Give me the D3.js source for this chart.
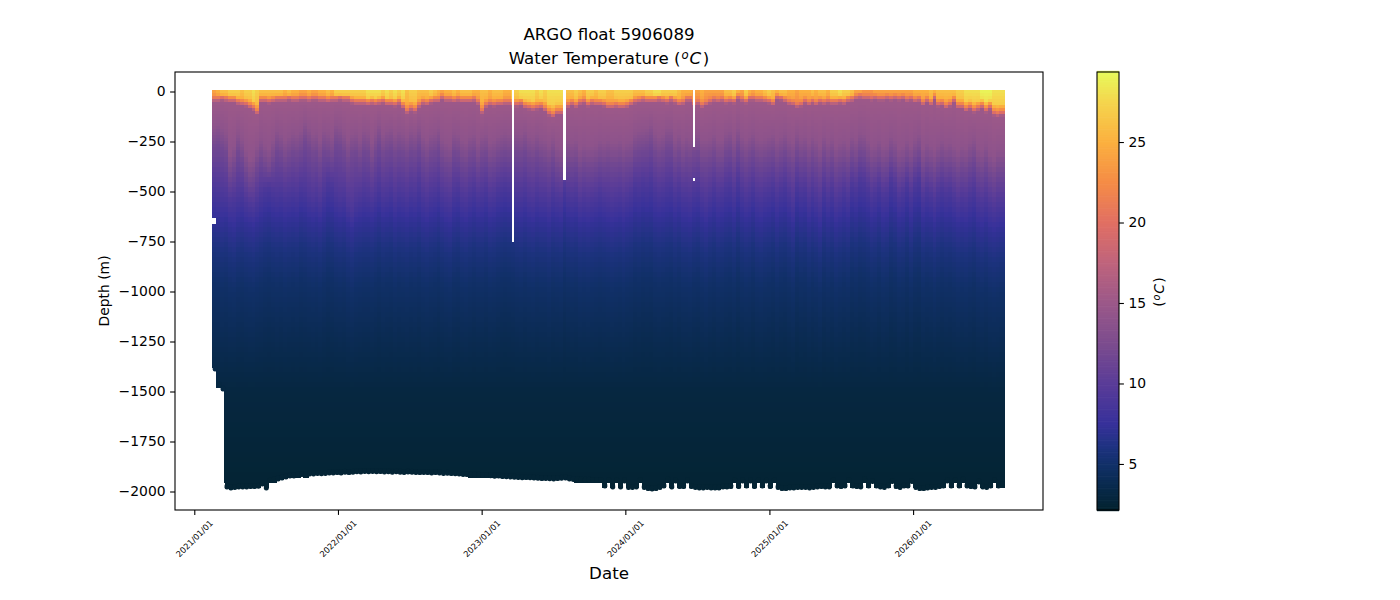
<!DOCTYPE html>
<html><head><meta charset="utf-8">
<script src="https://cdn.jsdelivr.net/npm/d3@7"></script>
<style>
html,body{margin:0;padding:0;background:#fff}
svg{display:block}
text{font-family:"DejaVu Sans",sans-serif;fill:#000}
</style></head><body>
<script>
// --- data ---
const firstProfile = "2021-02-23", profileStop = "2026-08-17", cycleDays = 10; // float cycle
const surfaceTemp = [
24,25,26,26,27,27,27,26,27,27,28,27,26,26,26,26,26,26,25,26,25,25,24,24,25,24,24,25,25,26,25,27,27,27,27,27,27,27,27,28,28,28,28,27,28,27,28,27,28,26,
27,27,26,26,26,27,26,25,24,25,25,26,25,26,26,26,25,25,26,26,25,26,26,26,25,25,27,27,28,28,28,28,27,28,27,28,28,28,28,27,26,26,27,26,25,27,27,26,27,27,
26,26,27,27,27,27,27,26,26,26,27,27,28,28,27,27,27,27,26,25,25,25,24,24,25,24,24,24,24,24,26,26,27,25,24,27,25,24,25,25,26,27,26,25,26,26,25,25,24,25,
25,25,26,25,26,26,25,27,27,28,27,27,26,24,24,23,23,23,24,24,24,24,24,24,24,24,24,24,25,25,25,25,26,25,26,26,26,26,26,27,27,28,28,28,28,29,29,29,28,28,28];
const depth21 = [
25,25,20,25,30,30,40,45,50,60,70,90,30,30,35,30,25,25,25,20,25,25,20,20,25,20,20,25,25,30,25,25,20,25,25,35,40,40,40,45,40,45,40,35,45,45,50,40,60,85,
70,80,55,40,45,35,30,30,15,25,25,30,25,30,30,30,25,40,85,55,45,50,45,45,40,40,50,50,45,60,65,70,65,60,75,95,105,90,90,70,55,45,55,40,35,50,40,45,45,50,
60,60,55,60,60,55,45,35,30,25,30,30,30,25,30,35,25,35,45,40,25,25,50,40,55,45,35,25,30,25,35,30,35,15,25,35,20,20,25,25,30,35,45,15,20,30,40,45,55,50,
35,45,35,45,35,40,35,40,40,35,40,30,25,15,10,15,15,20,15,20,20,15,20,15,20,15,25,20,30,25,45,30,45,15,50,45,60,50,30,60,60,75,65,80,70,60,80,65,95,100,95];
const depth12 = [
270,260,280,300,400,370,300,330,390,430,420,370,330,360,380,340,290,310,340,320,300,310,290,250,280,310,300,340,290,300,320,260,270,300,340,310,300,330,290,300,350,300,260,310,290,280,310,290,300,320,
290,300,270,320,340,310,300,280,330,350,360,300,310,340,350,320,310,350,320,310,350,340,320,310,300,310,300,300,310,290,320,330,310,330,340,360,330,370,380,320,340,350,340,380,360,370,370,360,340,350,
340,350,350,340,360,345,340,300,290,285,280,260,300,320,310,280,280,330,310,340,320,330,310,300,340,340,330,310,340,340,300,290,330,280,320,340,320,300,330,340,330,320,310,340,320,300,330,350,300,330,
320,350,320,340,370,320,350,330,370,350,340,360,320,340,300,310,340,370,360,340,370,360,320,340,380,370,340,370,330,310,380,350,370,390,360,340,360,350,370,390,370,380,350,330,380,390,360,400,420,390,390];
const depth9 = [
470,480,500,510,540,530,510,500,540,560,570,540,500,480,470,490,500,490,510,500,490,500,470,480,510,530,510,540,490,450,460,500,520,510,560,580,540,520,500,510,530,500,470,510,500,480,520,490,500,520,
490,500,460,510,530,500,490,470,510,530,540,490,480,520,530,500,480,510,500,480,520,510,480,470,460,470,480,500,510,490,520,530,500,520,520,540,500,520,530,470,510,520,510,550,530,540,530,520,500,520,
530,540,530,520,540,520,500,460,470,450,460,440,480,500,490,470,460,500,480,510,510,520,490,480,520,540,510,480,510,500,470,460,500,440,490,520,500,470,510,520,500,490,470,510,480,460,500,540,460,490,
480,530,490,520,550,480,520,490,540,520,490,520,460,480,440,450,480,520,500,470,510,500,440,470,520,500,460,510,460,440,520,490,510,540,500,480,500,490,520,550,530,540,510,490,540,550,530,560,580,560,560];
const depth6 = [
780,790,800,790,820,830,800,790,810,820,830,810,790,770,760,780,790,780,800,790,780,790,760,770,790,800,790,810,780,750,760,790,800,790,820,840,810,800,790,790,800,780,760,790,780,770,800,780,790,800,
780,790,770,800,810,790,780,760,790,810,820,780,770,800,810,790,770,790,790,770,800,790,770,760,750,760,770,790,800,780,800,810,790,800,800,820,790,800,810,760,790,800,790,820,810,820,810,800,790,800,
810,820,810,800,820,800,790,760,770,750,760,750,780,790,780,770,760,790,770,800,800,810,780,770,800,820,790,770,800,790,770,760,790,740,780,800,790,760,800,810,790,780,760,800,770,760,790,820,750,780,
770,810,780,800,830,770,800,780,820,800,780,800,750,770,740,750,770,800,790,760,800,790,740,760,800,790,750,800,750,740,800,780,790,820,790,770,790,780,800,820,810,820,800,780,820,830,810,840,850,840,830];
const depth4 = [
1210,1220,1230,1220,1240,1240,1220,1210,1230,1240,1240,1220,1210,1190,1180,1190,1210,1190,1210,1200,1190,1200,1180,1190,1200,1210,1200,1220,1190,1170,1180,1200,1210,1200,1230,1240,1220,1210,1200,1200,1210,1190,1170,1200,1190,1180,1210,1190,1200,1210,
1190,1200,1180,1210,1220,1200,1190,1170,1200,1220,1230,1190,1180,1210,1220,1200,1180,1200,1200,1180,1210,1200,1180,1170,1160,1170,1180,1200,1210,1190,1210,1220,1200,1210,1210,1230,1200,1210,1220,1170,1200,1210,1200,1230,1220,1230,1220,1210,1200,1210,
1220,1230,1220,1210,1230,1210,1200,1170,1180,1160,1170,1160,1190,1200,1190,1180,1170,1200,1180,1210,1210,1220,1190,1180,1210,1230,1200,1180,1210,1200,1180,1170,1200,1150,1190,1210,1200,1170,1210,1220,1200,1190,1170,1210,1180,1170,1200,1230,1160,1190,
1180,1220,1190,1210,1240,1180,1210,1190,1230,1210,1190,1210,1160,1180,1150,1160,1180,1210,1200,1170,1210,1200,1150,1170,1210,1200,1160,1210,1160,1150,1210,1190,1200,1230,1200,1180,1200,1190,1210,1230,1220,1230,1210,1190,1230,1240,1220,1250,1260,1250,1240];
const bottomDepth = [
1400,1480,1500,1990,1995,1992,1990,1990,1990,1988,1988,1986,1975,1995,1958,1955,1950,1945,1940,1935,1935,1930,1928,1930,1925,1925,1922,1924,1922,1920,1920,1918,1920,1916,1918,1916,1914,1915,1912,1914,1912,1914,1913,1915,1914,1916,1914,1916,1917,1915,
1916,1917,1918,1917,1918,1920,1918,1920,1922,1921,1923,1924,1925,1927,1928,1930,1929,1931,1932,1932,1934,1936,1935,1938,1939,1940,1941,1942,1944,1943,1944,1945,1946,1948,1947,1949,1950,1948,1946,1945,1950,1952,1954,1955,1956,1956,1957,1957,1958,1985,
1958,1990,1958,1990,1960,1992,1992,1990,1958,1992,1998,2000,1998,1992,1985,1955,1990,1960,1988,1988,1960,1988,1992,1995,1995,1992,1995,1995,1995,1990,1990,1988,1958,1988,1960,1985,1960,1988,1958,1985,1960,1988,1958,1992,1998,1998,1995,1995,1992,1992,
1992,1995,1992,1990,1988,1990,1990,1958,1985,1988,1985,1958,1985,1988,1990,1955,1985,1962,1985,1990,1992,1985,1962,1988,1992,1985,1985,1962,1992,1998,1998,1995,1992,1992,1988,1985,1960,1985,1958,1985,1955,1985,1988,1990,1965,1990,1992,1985,1958,1985,1980];
// fixed lower part of the profile
const deepDepths = [1500, 1950], deepTemps = [3.0, 2.4];
// stretches with no data
const missingStarts = ["2023-03-19","2023-07-26","2024-06-20","2024-06-20","2021-02-10"];
const missingEnds   = ["2023-03-25","2023-08-02","2024-06-26","2024-06-26","2021-02-25"];
const missingTops   = [-7,-7,-7,435,635];
const missingBottoms= [750,440,275,445,660];
// axis ticks and colour map
const yTicks = [0,-250,-500,-750,-1000,-1250,-1500,-1750,-2000];
const xTickDates = ["2021-01-01","2022-01-01","2023-01-01","2024-01-01","2025-01-01","2026-01-01"];
const cbTicks = [5,10,15,20,25];
const thermalTemps = [2.14,3.5,5,6,7.5,10,12.5,15,17.5,20,22.5,25,27.5,29.35];
const thermalColors = ["#03232f","#08294a","#113069","#1d327f","#37319a","#5a3c98","#7c4c8e","#9b5889","#bf647c","#e16f63","#f58c46","#fbb03f","#f5d54d","#e7fa5a"];

const W=1400,H=600, L=175,R=1043,T=72,B=510;
const svg=d3.select("body").append("svg").attr("width",W).attr("height",H);
const d=s=>new Date(s+"T00:00:00Z");
const x=d3.scaleUtc().domain([d("2020-11-13"),d("2026-11-27")]).range([L,R]);
const y=d3.scaleLinear().domain([97.5,-2092.5]).range([T,B]);
const color=d3.scaleLinear().domain(thermalTemps).range(thermalColors).clamp(true);

const profileDates=d3.utcDay.range(d(firstProfile),d(profileStop),cycleDays);
const levels=d3.range(-7,300,15).concat(d3.range(303,2010,25));
const cells=[];
profileDates.forEach((date,i)=>{
  const sT=surfaceTemp[i], d21=depth21[i], d12=depth12[i], d6=depth6[i], bot=bottomDepth[i];
  const prof=d3.scaleLinear()
    .domain([0,d21*0.6,d21,d21+25,Math.max(d21+40,d12-100),d12,depth9[i],d6-160,d6,d6+170,depth4[i],deepDepths[0],deepDepths[1]])
    .range([sT,sT-1,21.5,15.1,13.9,11.8,9,7.3,5.9,4.9,4,deepTemps[0],deepTemps[1]]).clamp(true);
  levels.forEach((lv,k)=>{
    if(lv>=bot) return;
    const next=k+1<levels.length?levels[k+1]:bot;
    const last=next>=bot;
    cells.push({date,depth:lv,end:last?bot:next,temp:prof(Math.max(lv+4,0)),last,first:k===0});
  });
});
svg.append("g").attr("shape-rendering","crispEdges").selectAll("rect").data(cells.filter(c=>!c.last)).join("rect")
  .attr("x",c=>x(c.date)-(c.depth>1940?2.45:3))
  .attr("width",c=>c.depth>1940?4.9:6)
  .attr("y",c=>y(-c.depth))
  .attr("height",c=>y(-c.end)-y(-c.depth)+1)
  .attr("fill",c=>color(c.temp));
// rounded foot of each profile
svg.append("g").selectAll("rect").data(cells.filter(c=>c.last)).join("rect")
  .attr("x",c=>x(c.date)-2.45)
  .attr("width",4.9)
  .attr("y",c=>y(-c.end)-6)
  .attr("height",6)
  .attr("rx",2.2)
  .attr("fill",c=>color(c.temp));

svg.append("g").attr("shape-rendering","crispEdges").selectAll("rect").data(missingStarts).join("rect")
  .attr("x",(s,i)=>x(d(s)))
  .attr("width",(s,i)=>x(d(missingEnds[i]))-x(d(s)))
  .attr("y",(s,i)=>y(-missingTops[i])-1)
  .attr("height",(s,i)=>y(-missingBottoms[i])-y(-missingTops[i])+1)
  .attr("fill","#fff");

// axes
const minus=v=>String(v).replace("-","\u2212");
const yAxis=d3.axisLeft(y).tickValues(yTicks).tickFormat(minus).tickSize(4.9).tickPadding(4.5);
const gy=svg.append("g").attr("transform",`translate(${L},0)`).call(yAxis);
const xAxis=d3.axisBottom(x).tickValues(xTickDates.map(d)).tickFormat(d3.utcFormat("%Y/%m/%d")).tickSize(4.9).tickPadding(0);
const gx=svg.append("g").attr("transform",`translate(0,${B})`).call(xAxis);
gy.selectAll("text").attr("font-size",13.9).attr("fill","#000");
gx.selectAll("text").attr("font-size",8.33).attr("fill","#000")
  .attr("text-anchor","middle").attr("dy",0).attr("y",0).attr("dominant-baseline","middle")
  .attr("transform","translate(0,29) rotate(-45)");
[gx,gy].forEach(g=>{g.select(".domain").remove();g.selectAll("line").attr("stroke","#000").attr("stroke-width",1.1);});
svg.append("rect").attr("x",L).attr("y",T).attr("width",R-L).attr("height",B-T)
  .attr("fill","none").attr("stroke","#000").attr("stroke-width",1.1);

// titles
const math=(sel,before,after)=>{
  sel.append("tspan").text(before);
  sel.append("tspan").attr("font-style","italic").attr("font-size","0.7em").attr("dx","0.08em").attr("dy","-0.42em").text("o");
  sel.append("tspan").attr("font-style","italic").attr("dx","0.05em").attr("dy","0.3em").text("C");
  sel.append("tspan").attr("dx","0.1em").text(after);
};
svg.append("text").attr("x",609).attr("y",39.5).attr("text-anchor","middle").attr("font-size",16.67).text("ARGO float 5906089");
math(svg.append("text").attr("x",609).attr("y",64).attr("text-anchor","middle").attr("font-size",16.67),"Water Temperature (",")");
svg.append("text").attr("text-anchor","middle").attr("font-size",13.9)
  .attr("transform","translate(109,291) rotate(-90)").text("Depth (m)");
svg.append("text").attr("x",609).attr("y",579).attr("text-anchor","middle").attr("font-size",16.67).text("Date");

// colour bar
const cbL=1097,cbR=1119;
const cbY=d3.scaleLinear().domain([2.14,29.35]).range([B,T]);
const cbSteps=d3.range(256).map(k=>2.14+(29.35-2.14)*k/255);
svg.append("g").selectAll("rect").data(cbSteps).join("rect")
  .attr("x",cbL).attr("width",cbR-cbL)
  .attr("y",v=>cbY(v)-1.2).attr("height",2.4)
  .attr("fill",v=>color(v));
svg.append("rect").attr("x",cbL).attr("y",T).attr("width",cbR-cbL).attr("height",B-T)
  .attr("fill","none").attr("stroke","#000").attr("stroke-width",1.1);
const gc=svg.append("g").attr("transform",`translate(${cbR},0)`)
  .call(d3.axisRight(cbY).tickValues(cbTicks).tickSize(4.9).tickPadding(4.5));
gc.select(".domain").remove();
gc.selectAll("line").attr("stroke","#000").attr("stroke-width",1.1);
gc.selectAll("text").attr("font-size",13.9).attr("fill","#000");
math(svg.append("text").attr("text-anchor","middle").attr("font-size",13.9)
  .attr("transform","translate(1164,292) rotate(-90)"),"(",")");
</script>
</body></html>
